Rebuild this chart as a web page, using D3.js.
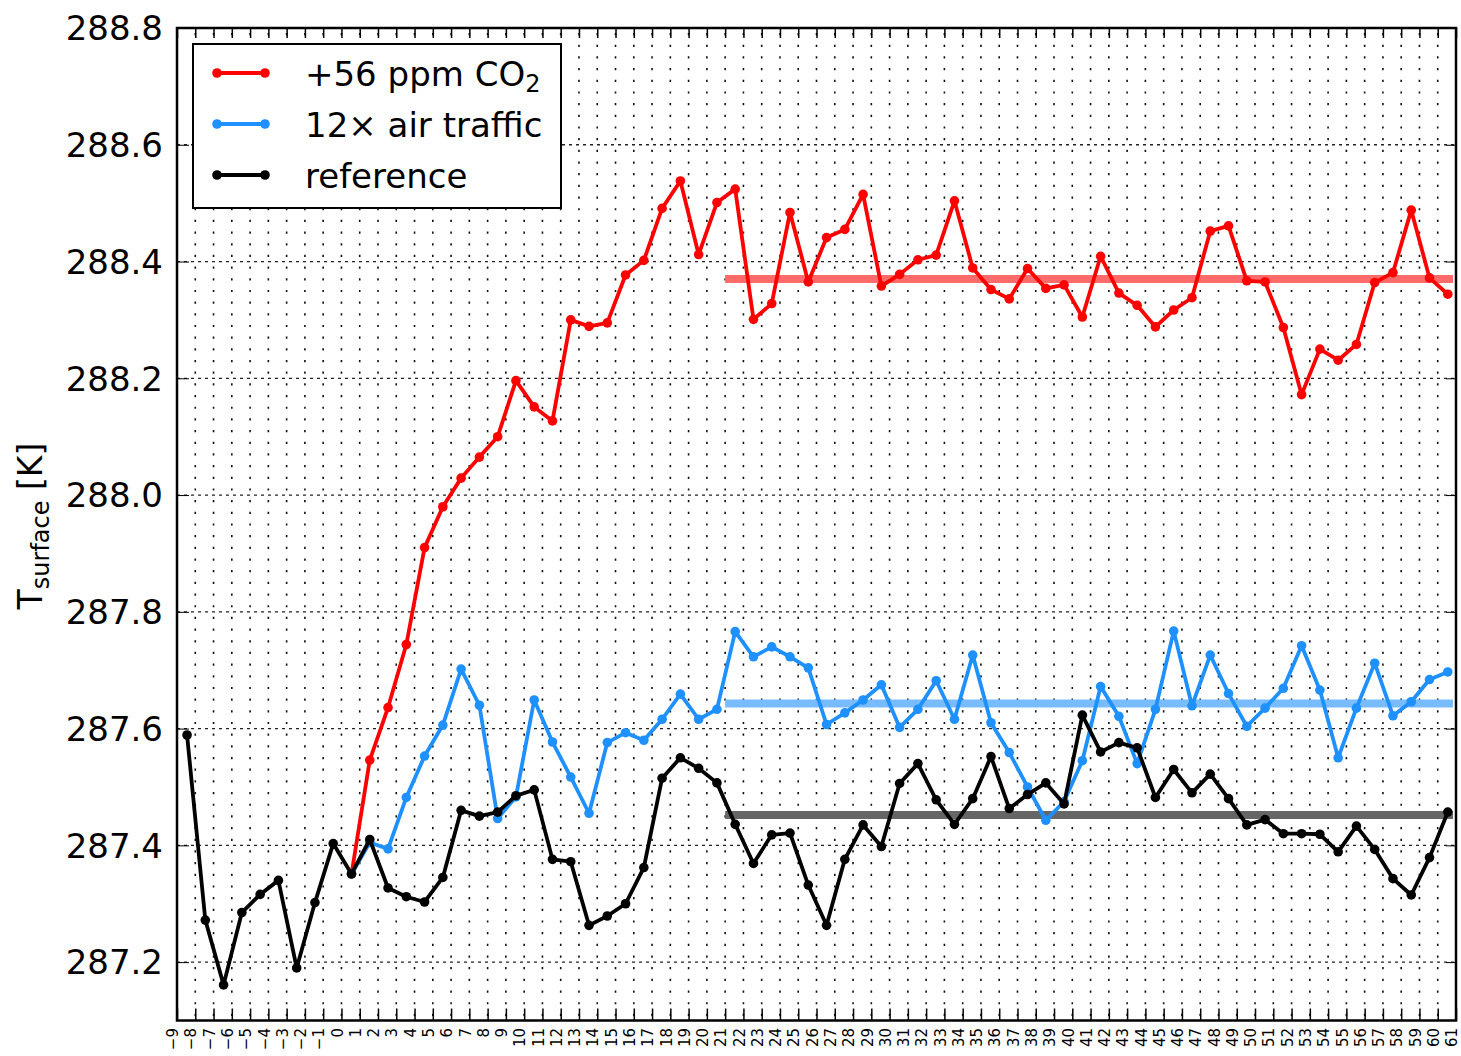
<!DOCTYPE html>
<html>
<head>
<meta charset="utf-8">
<script src="https://cdn.jsdelivr.net/npm/d3@7"></script>
<style>
  body { margin: 0; background: #fff; }
  svg { display: block; font-family: "DejaVu Sans", sans-serif; }
</style>
</head>
<body>
<svg id="chart" width="1461" height="1056"></svg>
<script>
'use strict';

// model years of the reference run
var years = [-9, -8, -7, -6, -5, -4, -3, -2, -1, 0, 1, 2, 3, 4, 5, 6, 7, 8, 9, 10,
  11, 12, 13, 14, 15, 16, 17, 18, 19, 20, 21, 22, 23, 24, 25, 26, 27, 28, 29, 30,
  31, 32, 33, 34, 35, 36, 37, 38, 39, 40, 41, 42, 43, 44, 45, 46, 47, 48, 49, 50,
  51, 52, 53, 54, 55, 56, 57, 58, 59, 60];

// perturbed runs start at year 0
var runYears = years.slice(9);

var reference = [287.589, 287.272, 287.161, 287.285, 287.316, 287.340, 287.190, 287.302, 287.403, 287.351,
  287.410, 287.327, 287.312, 287.303, 287.345, 287.460, 287.450, 287.457, 287.485, 287.495,
  287.376, 287.372, 287.263, 287.279, 287.300, 287.362, 287.515, 287.550, 287.532, 287.507,
  287.436, 287.369, 287.418, 287.421, 287.332, 287.263, 287.376, 287.435, 287.398, 287.506,
  287.540, 287.478, 287.436, 287.480, 287.552, 287.463, 287.487, 287.507, 287.471, 287.623,
  287.560, 287.576, 287.567, 287.482, 287.530, 287.490, 287.522, 287.480, 287.435, 287.444,
  287.420, 287.420, 287.419, 287.389, 287.433, 287.393, 287.343, 287.315, 287.379, 287.457];

var airTraffic = [287.351, 287.405, 287.394, 287.482, 287.553, 287.606, 287.702, 287.640, 287.446, 287.483,
  287.649, 287.577, 287.517, 287.455, 287.576, 287.593, 287.580, 287.616, 287.659, 287.616,
  287.633, 287.766, 287.723, 287.740, 287.723, 287.704, 287.607, 287.627, 287.649, 287.675,
  287.602, 287.633, 287.682, 287.616, 287.726, 287.610, 287.559, 287.500, 287.443, 287.475,
  287.545, 287.672, 287.621, 287.540, 287.633, 287.767, 287.639, 287.726, 287.660, 287.604,
  287.635, 287.669, 287.742, 287.666, 287.550, 287.635, 287.712, 287.622, 287.646, 287.684,
  287.697];

var co2 = [287.351, 287.546, 287.636, 287.744, 287.910, 287.980, 288.029, 288.065, 288.100, 288.196,
  288.151, 288.127, 288.300, 288.289, 288.295, 288.377, 288.402, 288.491, 288.538, 288.412,
  288.501, 288.524, 288.301, 288.328, 288.484, 288.365, 288.441, 288.455, 288.515, 288.358,
  288.378, 288.403, 288.411, 288.504, 288.389, 288.352, 288.336, 288.388, 288.354, 288.360,
  288.305, 288.409, 288.346, 288.325, 288.288, 288.317, 288.338, 288.452, 288.461, 288.367,
  288.365, 288.287, 288.172, 288.250, 288.231, 288.258, 288.364, 288.381, 288.488, 288.372,
  288.344];

// equilibrium means over the last 40 years
var meanPeriod = [21, 61];
var means = { co2: 288.370, air: 287.643, ref: 287.452 };

var xTicks = d3.range(-9, 62);
var yTicks = [287.2, 287.4, 287.6, 287.8, 288.0, 288.2, 288.4, 288.6, 288.8];

var legendLabels = ['+56 ppm CO', '12\u00d7 air traffic', 'reference'];

var colors = { co2: '#ff0000', air: '#1e90ff', ref: '#000000' };
var meanColors = { co2: '#ff6b6b', air: '#78bcff', ref: '#666666' };

// annual means sit a bit past the year tick
var yearOffset = 0.55;

var svg = d3.select('#chart');
var frame = { left: 177, right: 1456, top: 28, bottom: 1020.5 };

var x = d3.scaleLinear().domain([-9, 61]).range([frame.left, frame.right]);
var y = d3.scaleLinear().domain([287.1, 288.8]).range([frame.bottom, frame.top]);

// grid: dotted verticals at every year, dashed horizontals at major ticks
var grid = svg.append('g').attr('class', 'grid');
var dotStep = y(288.78) - y(288.8);

grid.selectAll('line.vgrid')
  .data(xTicks.slice(1, -1))
  .enter().append('line')
  .attr('class', 'vgrid')
  .attr('x1', (d) => x(d)).attr('x2', (d) => x(d))
  .attr('y1', frame.top).attr('y2', frame.bottom)
  .attr('stroke', '#111')
  .attr('stroke-width', 1.6)
  .attr('stroke-dasharray', '2.2,' + (dotStep - 2.2))
  .attr('stroke-dashoffset', -5);

grid.selectAll('line.hgrid')
  .data(yTicks.slice(0, -1))
  .enter().append('line')
  .attr('class', 'hgrid')
  .attr('x1', frame.left).attr('x2', frame.right)
  .attr('y1', (d) => y(d)).attr('y2', (d) => y(d))
  .attr('stroke', '#222')
  .attr('stroke-width', 1.3)
  .attr('stroke-dasharray', '3,4');

// mean lines under the series
var meanG = svg.append('g');
[['co2', means.co2], ['air', means.air], ['ref', means.ref]].forEach((m) => {
  meanG.append('line')
    .attr('x1', x(meanPeriod[0])).attr('x2', x(meanPeriod[1]) - 3)
    .attr('y1', y(m[1])).attr('y2', y(m[1]))
    .attr('stroke', meanColors[m[0]])
    .attr('stroke-width', 8);
});

var line = d3.line()
  .x((d) => x(d[0] + yearOffset))
  .y((d) => y(d[1]));

function drawSeries(xs, vals, color) {
  var pts = xs.map((d, i) => [d, vals[i]]);
  var g = svg.append('g');

  g.append('path')
    .datum(pts)
    .attr('d', line)
    .attr('fill', 'none')
    .attr('stroke', color)
    .attr('stroke-width', 3.8)
    .attr('stroke-linejoin', 'round');

  g.selectAll('circle')
    .data(pts)
    .enter().append('circle')
    .attr('cx', (d) => x(d[0] + yearOffset))
    .attr('cy', (d) => y(d[1]))
    .attr('r', 4.8)
    .attr('fill', color);
}

drawSeries(runYears, co2, colors.co2);
drawSeries(runYears, airTraffic, colors.air);
drawSeries(years, reference, colors.ref);

// axes with inward ticks on all four sides
var axisG = svg.append('g');

axisG.append('g')
  .attr('transform', 'translate(0,' + frame.bottom + ')')
  .call(d3.axisBottom(x).tickValues(xTicks).tickSizeInner(-12).tickSizeOuter(0).tickFormat(''))
  .call((g) => g.select('.domain').remove())
  .call((g) => g.selectAll('line').attr('stroke-width', 1.5));

axisG.append('g')
  .attr('transform', 'translate(0,' + frame.top + ')')
  .call(d3.axisTop(x).tickValues(xTicks).tickSizeInner(-10).tickSizeOuter(0).tickFormat(''))
  .call((g) => g.select('.domain').remove())
  .call((g) => g.selectAll('line').attr('stroke-width', 1.5));

axisG.append('g')
  .attr('transform', 'translate(' + frame.left + ',0)')
  .call(d3.axisLeft(y).tickValues(yTicks).tickSizeInner(-12).tickSizeOuter(0).tickFormat(''))
  .call((g) => g.select('.domain').remove());

axisG.append('g')
  .attr('transform', 'translate(' + frame.right + ',0)')
  .call(d3.axisRight(y).tickValues(yTicks).tickSizeInner(-10).tickSizeOuter(0).tickFormat(''))
  .call((g) => g.select('.domain').remove());

// x tick labels, rotated
svg.append('g').selectAll('text')
  .data(xTicks)
  .enter().append('text')
  .attr('transform', (d) => 'translate(' + x(d) + ',1028) rotate(-90)')
  .attr('dy', '0.08em')
  .attr('text-anchor', 'end')
  .attr('font-size', 15)
  .text(d3.format('d'));

// y tick labels
svg.append('g').selectAll('text')
  .data(yTicks)
  .enter().append('text')
  .attr('x', 163)
  .attr('y', (d) => y(d))
  .attr('dy', '0.36em')
  .attr('text-anchor', 'end')
  .attr('font-size', 34)
  .text(d3.format('.1f'));

// frame
svg.append('rect')
  .attr('x', frame.left).attr('y', frame.top)
  .attr('width', frame.right - frame.left)
  .attr('height', frame.bottom - frame.top)
  .attr('fill', 'none')
  .attr('stroke', '#000')
  .attr('stroke-width', 2.5);

// y axis label
var ylab = svg.append('text')
  .attr('transform', 'translate(42,526) rotate(-90)')
  .attr('text-anchor', 'middle')
  .attr('font-size', 33);
ylab.append('tspan').text('T');
ylab.append('tspan').attr('font-size', 24).attr('dy', 7).text('surface');
ylab.append('tspan').attr('dy', -7).text(' [K]');

// legend
var legend = svg.append('g');
legend.append('rect')
  .attr('x', 193).attr('y', 44)
  .attr('width', 368).attr('height', 164)
  .attr('fill', '#fff')
  .attr('stroke', '#000')
  .attr('stroke-width', 2);

var legendKeys = ['co2', 'air', 'ref'];
var legendY = [73, 124, 175];

legendKeys.forEach((k, i) => {
  var ly = legendY[i];
  legend.append('line')
    .attr('x1', 217).attr('x2', 265)
    .attr('y1', ly).attr('y2', ly)
    .attr('stroke', colors[k]).attr('stroke-width', 3.8);
  [217, 265].forEach((cx) => {
    legend.append('circle')
      .attr('cx', cx).attr('cy', ly).attr('r', 4.8)
      .attr('fill', colors[k]);
  });
  var t = legend.append('text')
    .attr('x', 305).attr('y', ly)
    .attr('dy', '0.38em')
    .attr('font-size', 34)
    .text(legendLabels[i]);
  if (k === 'co2') {
    t.append('tspan').attr('font-size', 24).attr('dy', 6).text('2');
  }
});
</script>
</body>
</html>
